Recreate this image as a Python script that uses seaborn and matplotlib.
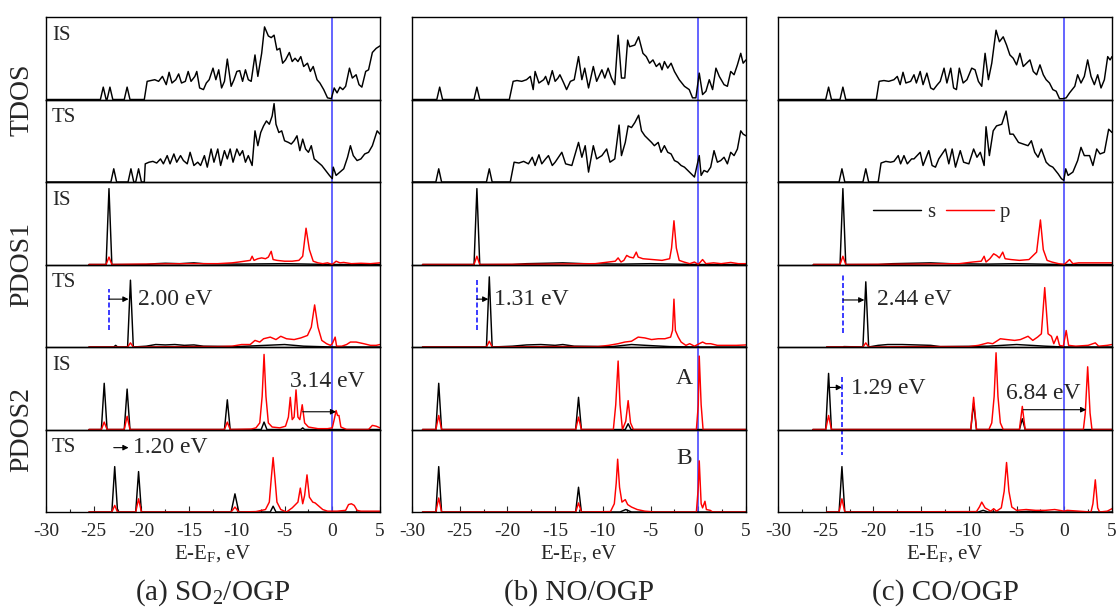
import matplotlib
matplotlib.use('Agg')
import matplotlib.pyplot as plt
from matplotlib.lines import Line2D
from matplotlib.ticker import MultipleLocator
import seaborn as sns
import pandas as pd

# ---------------- data: (E - E_F in eV, DOS in panel units) ----------------
# (a) SO2/OGP
so2_tdos_is = [(-30, 0), (-24.3, 0), (-24.0, 0.15), (-23.7, 0), (-23.6, 0), (-23.3, 0.15), (-23.0, 0),
               (-21.8, 0), (-21.5, 0.15), (-21.2, 0), (-19.7, 0), (-19.4, 0.22), (-19.0, 0.23), (-18.6, 0.24),
               (-18.2, 0.22), (-17.8, 0.28), (-17.4, 0.18), (-17.1, 0.33), (-16.8, 0.20), (-16.4, 0.24),
               (-16.1, 0.31), (-15.8, 0.20), (-15.4, 0.22), (-15.1, 0.34), (-14.8, 0.22), (-14.4, 0.28),
               (-14.2, 0.34), (-13.9, 0.14), (-13.5, 0.12), (-13.2, 0.20), (-12.9, 0.24), (-12.5, 0.38),
               (-12.2, 0.24), (-11.9, 0.36), (-11.6, 0.14), (-11.3, 0.22), (-11.0, 0.49), (-10.6, 0.16),
               (-10.3, 0.24), (-10.0, 0.34), (-9.7, 0.35), (-9.4, 0.22), (-9.1, 0.36), (-8.8, 0.24),
               (-8.5, 0.22), (-8.1, 0.54), (-7.8, 0.28), (-7.4, 0.56), (-7.1, 0.88), (-6.7, 0.77),
               (-6.4, 0.75), (-6.1, 0.78), (-5.8, 0.60), (-5.5, 0.62), (-5.2, 0.44), (-4.9, 0.48),
               (-4.5, 0.57), (-4.2, 0.46), (-3.9, 0.50), (-3.6, 0.46), (-3.3, 0.52), (-3.0, 0.40),
               (-2.6, 0.44), (-2.3, 0.34), (-2.0, 0.40), (-1.6, 0.24), (-1.3, 0.20), (-0.9, 0.12),
               (-0.5, 0.02), (-0.1, 0.01), (0.2, 0.14), (0.5, 0.08), (0.8, 0.15), (1.1, 0.12), (1.4, 0.16),
               (1.8, 0.38), (2.1, 0.26), (2.5, 0.30), (2.8, 0.18), (3.1, 0.15), (3.5, 0.34), (3.8, 0.36),
               (4.2, 0.57), (4.6, 0.62), (5.0, 0.65)]
so2_tdos_ts = [(-30, 0), (-23.2, 0), (-22.9, 0.16), (-22.6, 0), (-21.4, 0), (-21.1, 0.16), (-20.8, 0),
               (-20.6, 0), (-20.3, 0.16), (-20.0, 0), (-19.7, 0), (-19.6, 0.22), (-19.2, 0.24), (-18.8, 0.25),
               (-18.4, 0.23), (-18.0, 0.28), (-17.7, 0.22), (-17.3, 0.32), (-17.0, 0.22), (-16.6, 0.34),
               (-16.3, 0.24), (-15.9, 0.32), (-15.6, 0.26), (-15.2, 0.22), (-14.9, 0.36), (-14.5, 0.20),
               (-14.1, 0.24), (-13.8, 0.20), (-13.4, 0.32), (-13.1, 0.18), (-12.7, 0.40), (-12.4, 0.24),
               (-12.0, 0.40), (-11.7, 0.20), (-11.3, 0.38), (-11.0, 0.28), (-10.7, 0.40), (-10.4, 0.24),
               (-10.0, 0.40), (-9.7, 0.32), (-9.4, 0.38), (-9.1, 0.24), (-8.8, 0.32), (-8.4, 0.20),
               (-8.1, 0.62), (-7.8, 0.44), (-7.5, 0.60), (-7.2, 0.68), (-6.9, 0.74), (-6.6, 0.70),
               (-6.3, 0.80), (-6.1, 0.95), (-5.9, 0.70), (-5.6, 0.60), (-5.3, 0.62), (-5.0, 0.50),
               (-4.6, 0.48), (-4.3, 0.46), (-4.0, 0.50), (-3.7, 0.56), (-3.4, 0.38), (-3.1, 0.52),
               (-2.8, 0.40), (-2.5, 0.36), (-2.2, 0.44), (-1.9, 0.28), (-1.5, 0.24), (-1.1, 0.20),
               (-0.7, 0.14), (-0.3, 0.08), (0.0, 0.04), (0.1, 0.18), (0.4, 0.08), (0.8, 0.12), (1.2, 0.16),
               (1.6, 0.30), (1.9, 0.44), (2.2, 0.32), (2.6, 0.26), (3.0, 0.28), (3.4, 0.34), (3.8, 0.36),
               (4.2, 0.44), (4.7, 0.62), (5.0, 0.58)]
so2_pdos1_is_s = [(-25.5, 0), (-23.7, 0), (-23.4, 0.92), (-23.1, 0), (-19.5, 0), (-18.5, 0.01), (-17.5, 0.015),
                  (-16.0, 0.01), (-14.5, 0.02), (-13.5, 0.01), (-10, 0.005), (-5, 0.01), (0, 0), (5, 0)]
so2_pdos1_is_p = [(-25.5, 0), (-23.7, 0), (-23.4, 0.09), (-23.1, 0), (-20, 0.005), (-15, 0.01), (-12, 0.01),
                  (-10.5, 0.02), (-9.8, 0.03), (-9.2, 0.04), (-8.6, 0.05), (-8.4, 0.10), (-8.2, 0.05),
                  (-7.8, 0.07), (-7.4, 0.08), (-7.0, 0.07), (-6.7, 0.09), (-6.4, 0.16), (-6.2, 0.06),
                  (-5.8, 0.05), (-5.0, 0.04), (-4.2, 0.04), (-3.5, 0.05), (-3.1, 0.10), (-2.75, 0.44),
                  (-2.4, 0.18), (-2.0, 0.04), (-1.5, 0.02), (-1.0, 0.01), (-0.5, 0.02), (0.0, 0.0),
                  (0.4, 0.04), (0.8, 0.02), (1.2, 0.025), (2.0, 0.01), (3.0, 0.015), (4.0, 0.01), (5.0, 0.02)]
so2_pdos1_ts_s = [(-25.5, 0), (-22.9, 0), (-22.7, 0.02), (-22.5, 0), (-21.45, 0), (-21.15, 0.81), (-20.85, 0),
                  (-19.5, 0.01), (-18.5, 0.03), (-17.5, 0.025), (-16.5, 0.03), (-15.5, 0.02), (-14.5, 0.025),
                  (-13.5, 0.01), (-10, 0.005), (-7, 0.02), (-5, 0.03), (-3, 0.01), (0, 0), (5, 0)]
so2_pdos1_ts_p = [(-25.5, 0), (-21.45, 0), (-21.15, 0.05), (-20.85, 0), (-15, 0.005), (-12, 0.005),
                  (-10.5, 0.01), (-9.5, 0.03), (-8.6, 0.03), (-8.1, 0.08), (-7.6, 0.06), (-7.2, 0.10),
                  (-6.5, 0.12), (-5.9, 0.09), (-5.4, 0.13), (-4.8, 0.10), (-4.0, 0.09), (-3.3, 0.11),
                  (-2.6, 0.14), (-2.2, 0.24), (-1.85, 0.51), (-1.5, 0.24), (-1.1, 0.08), (-0.6, 0.04),
                  (-0.2, 0.02), (0.0, 0.04), (0.3, 0.12), (0.45, 0.01), (1.0, 0.01), (1.5, 0.03), (1.9, 0.06),
                  (2.5, 0.06), (3.3, 0.04), (4.0, 0.02), (4.6, 0.02), (5.0, 0.03)]
so2_pdos2_is_s = [(-25.5, 0), (-24.2, 0), (-23.9, 0.56), (-23.6, 0), (-21.8, 0), (-21.5, 0.49), (-21.2, 0),
                  (-11.3, 0), (-11.0, 0.36), (-10.7, 0), (-7.45, 0), (-7.15, 0.09), (-6.85, 0), (-3.3, 0),
                  (-3.1, 0.02), (-2.9, 0), (5, 0)]
so2_pdos2_is_p = [(-25.5, 0), (-24.2, 0), (-23.9, 0.09), (-23.6, 0), (-21.8, 0), (-21.5, 0.16), (-21.2, 0),
                  (-11.3, 0), (-11.0, 0.09), (-10.7, 0), (-8.5, 0.005), (-8.0, 0.02), (-7.6, 0.08),
                  (-7.35, 0.4), (-7.15, 0.91), (-6.95, 0.4), (-6.7, 0.08), (-6.3, 0.03), (-5.5, 0.02),
                  (-4.9, 0.04), (-4.6, 0.15), (-4.4, 0.39), (-4.2, 0.12), (-4.0, 0.15), (-3.8, 0.48),
                  (-3.6, 0.15), (-3.4, 0.12), (-3.15, 0.30), (-2.9, 0.08), (-2.5, 0.03), (-1.5, 0.01),
                  (-0.5, 0.01), (0.0, 0.02), (0.2, 0.12), (0.4, 0.23), (0.55, 0.17), (0.7, 0.17), (0.9, 0.03),
                  (1.5, 0.0), (3.8, 0.0), (4.2, 0.05), (4.6, 0.04), (5.0, 0.02)]
so2_pdos2_ts_s = [(-25.5, 0), (-23.1, 0), (-22.8, 0.55), (-22.5, 0), (-20.6, 0), (-20.3, 0.49), (-20.0, 0),
                  (-10.6, 0), (-10.2, 0.22), (-9.8, 0), (-6.5, 0), (-6.2, 0.07), (-5.9, 0), (5, 0)]
so2_pdos2_ts_p = [(-25.5, 0), (-23.1, 0), (-22.8, 0.08), (-22.5, 0), (-20.6, 0), (-20.3, 0.16), (-20.0, 0),
                  (-10.6, 0), (-10.2, 0.06), (-9.8, 0), (-8, 0.005), (-7.0, 0.03), (-6.6, 0.12), (-6.4, 0.4),
                  (-6.2, 0.66), (-6.0, 0.4), (-5.8, 0.12), (-5.4, 0.03), (-4.8, 0.0), (-4.2, 0.05),
                  (-3.6, 0.12), (-3.35, 0.29), (-3.1, 0.10), (-2.9, 0.2), (-2.65, 0.45), (-2.4, 0.18),
                  (-2.05, 0.12), (-1.8, 0.11), (-1.5, 0.08), (-1.0, 0.03), (-0.5, 0.01), (0.5, 0.01),
                  (1.4, 0.02), (1.7, 0.09), (2.0, 0.10), (2.3, 0.08), (2.6, 0.02), (3.0, 0.01), (5.0, 0.01)]

# (b) NO/OGP
no_tdos_is = [(-30, 0), (-27.4, 0), (-27.1, 0.15), (-26.8, 0), (-23.5, 0), (-23.2, 0.15), (-22.9, 0),
              (-19.8, 0), (-19.4, 0.22), (-19.0, 0.23), (-18.5, 0.22), (-18.0, 0.24), (-17.6, 0.28),
              (-17.3, 0.12), (-17.1, 0.34), (-16.7, 0.20), (-16.2, 0.24), (-16.0, 0.28), (-15.7, 0.18),
              (-15.3, 0.35), (-15.0, 0.22), (-14.7, 0.26), (-14.5, 0.30), (-14.1, 0.20), (-13.8, 0.12),
              (-13.4, 0.22), (-13.0, 0.24), (-12.55, 0.52), (-12.2, 0.24), (-11.9, 0.38), (-11.5, 0.14),
              (-11.0, 0.40), (-10.65, 0.22), (-10.1, 0.36), (-9.8, 0.26), (-9.45, 0.38), (-9.1, 0.26),
              (-8.75, 0.18), (-8.4, 0.78), (-8.05, 0.26), (-7.7, 0.26), (-7.4, 0.72), (-7.2, 0.64),
              (-6.65, 0.66), (-6.25, 0.76), (-5.8, 0.56), (-5.45, 0.52), (-5.1, 0.44), (-4.75, 0.48),
              (-4.4, 0.40), (-4.05, 0.44), (-3.8, 0.36), (-3.55, 0.46), (-3.2, 0.38), (-2.85, 0.44),
              (-2.5, 0.34), (-2.0, 0.24), (-1.45, 0.16), (-0.95, 0.12), (-0.6, 0.02), (-0.25, 0.02),
              (0.1, 0.32), (0.45, 0.06), (0.8, 0.10), (1.15, 0.24), (1.5, 0.12), (1.85, 0.38), (2.2, 0.28),
              (2.7, 0.18), (3.05, 0.16), (3.4, 0.34), (3.75, 0.30), (4.1, 0.42), (4.45, 0.56), (4.7, 0.44),
              (5.0, 0.48)]
no_tdos_ts = [(-30, 0), (-27.5, 0), (-27.2, 0.16), (-26.9, 0), (-22.2, 0), (-21.9, 0.16), (-21.6, 0),
              (-19.7, 0), (-19.3, 0.24), (-18.8, 0.23), (-18.3, 0.25), (-17.8, 0.22), (-17.4, 0.30),
              (-17.1, 0.20), (-16.7, 0.33), (-16.4, 0.22), (-16.0, 0.28), (-15.7, 0.32), (-15.3, 0.20),
              (-15.0, 0.24), (-14.3, 0.36), (-13.9, 0.22), (-13.25, 0.20), (-12.55, 0.48), (-12.2, 0.30),
              (-11.85, 0.44), (-11.5, 0.12), (-11.0, 0.44), (-10.65, 0.28), (-10.1, 0.32), (-9.6, 0.40),
              (-9.25, 0.24), (-8.75, 0.28), (-8.3, 0.69), (-8.05, 0.32), (-7.65, 0.48), (-7.35, 0.68),
              (-7.0, 0.66), (-6.65, 0.72), (-6.25, 0.81), (-5.95, 0.62), (-5.6, 0.56), (-5.25, 0.52),
              (-4.9, 0.48), (-4.6, 0.44), (-4.2, 0.48), (-3.9, 0.36), (-3.55, 0.44), (-3.2, 0.36),
              (-2.85, 0.34), (-2.5, 0.26), (-2.15, 0.24), (-1.8, 0.20), (-1.45, 0.18), (-1.1, 0.14),
              (-0.75, 0.10), (-0.4, 0.06), (0.1, 0.32), (0.3, 0.08), (0.6, 0.14), (0.95, 0.12), (1.3, 0.18),
              (1.65, 0.38), (2.0, 0.24), (2.35, 0.26), (2.7, 0.30), (3.05, 0.22), (3.4, 0.36), (3.75, 0.32),
              (4.1, 0.40), (4.45, 0.62), (4.7, 0.58), (5.0, 0.56)]
no_pdos1_is_s = [(-28.9, 0), (-23.5, 0), (-23.2, 0.92), (-22.9, 0), (-19.5, 0), (-18, 0.01), (-16, 0.015),
                 (-14.2, 0.02), (-12, 0.01), (-8, 0.005), (-5, 0.01), (0, 0), (5, 0)]
no_pdos1_is_p = [(-28.9, 0), (-23.5, 0), (-23.2, 0.10), (-22.9, 0), (-15, 0.005), (-10.8, 0.01), (-10.1, 0.02),
                 (-9.4, 0.03), (-8.7, 0.04), (-8.4, 0.08), (-8.1, 0.03), (-7.8, 0.05), (-7.5, 0.11),
                 (-7.2, 0.09), (-6.8, 0.08), (-6.5, 0.15), (-6.3, 0.09), (-5.8, 0.07), (-4.8, 0.06),
                 (-3.8, 0.05), (-3.0, 0.07), (-2.8, 0.2), (-2.55, 0.53), (-2.3, 0.2), (-2.0, 0.05),
                 (-1.5, 0.03), (-0.9, 0.01), (-0.4, 0.03), (0.0, 0.0), (0.45, 0.06), (0.8, 0.01), (1.6, 0.02),
                 (2.4, 0.01), (3.4, 0.025), (4.2, 0.01), (5.0, 0.01)]
no_pdos1_ts_s = [(-28.9, 0), (-22.2, 0), (-21.9, 0.85), (-21.6, 0), (-19.5, 0.01), (-18, 0.025), (-16.5, 0.03),
                 (-15, 0.02), (-14.2, 0.03), (-13, 0.01), (-9, 0.005), (-7, 0.03), (-5.5, 0.02), (-3, 0.005),
                 (0, 0), (5, 0)]
no_pdos1_ts_p = [(-28.9, 0), (-22.2, 0), (-21.9, 0.07), (-21.6, 0), (-15, 0.005), (-10.5, 0.005), (-9.4, 0.02),
                 (-8.4, 0.04), (-7.7, 0.06), (-7.0, 0.07), (-6.3, 0.12), (-5.6, 0.11), (-4.9, 0.09),
                 (-4.2, 0.10), (-3.5, 0.10), (-2.9, 0.12), (-2.7, 0.2), (-2.55, 0.58), (-2.4, 0.2),
                 (-2.1, 0.12), (-1.8, 0.06), (-1.3, 0.02), (-0.9, 0.04), (-0.4, 0.01), (0.1, 0.04),
                 (0.45, 0.06), (0.8, 0.04), (1.3, 0.04), (2.0, 0.02), (3.0, 0.02), (4.0, 0.02), (5.0, 0.025)]
no_pdos2_is_s = [(-28.9, 0), (-27.5, 0), (-27.2, 0.56), (-26.9, 0), (-12.85, 0), (-12.55, 0.39), (-12.25, 0),
                 (-7.65, 0), (-7.35, 0.07), (-7.05, 0), (5, 0)]
no_pdos2_is_p = [(-28.9, 0), (-27.5, 0), (-27.2, 0.17), (-26.9, 0), (-12.85, 0), (-12.55, 0.15), (-12.25, 0),
                 (-8.9, 0.0), (-8.65, 0.3), (-8.4, 0.83), (-8.2, 0.3), (-7.95, 0.0), (-7.6, 0.1),
                 (-7.35, 0.35), (-7.1, 0.08), (-6.8, 0.0), (-0.2, 0), (0.0, 0.3), (0.1, 0.89), (0.3, 0.3),
                 (0.5, 0.0), (5, 0)]
no_pdos2_ts_s = [(-28.9, 0), (-27.5, 0), (-27.2, 0.55), (-26.9, 0), (-12.85, 0), (-12.55, 0.30), (-12.25, 0),
                 (-8.2, 0), (-7.6, 0.03), (-7.0, 0), (5, 0)]
no_pdos2_ts_p = [(-28.9, 0), (-27.5, 0), (-27.2, 0.17), (-26.9, 0), (-12.85, 0), (-12.55, 0.11), (-12.25, 0),
                 (-9.2, 0.005), (-8.8, 0.1), (-8.6, 0.35), (-8.45, 0.64), (-8.25, 0.3), (-8.0, 0.12),
                 (-7.65, 0.15), (-7.4, 0.09), (-7.0, 0.06), (-6.4, 0.03), (-5.6, 0.01), (-4.5, 0.0),
                 (-0.2, 0.0), (0.0, 0.3), (0.1, 0.62), (0.3, 0.1), (0.45, 0.05), (0.7, 0.13), (0.85, 0.03),
                 (1.25, 0.02), (1.5, 0.0), (5, 0)]

# (c) CO/OGP
co_tdos_is = [(-30, 0), (-25.0, 0), (-24.7, 0.15), (-24.4, 0), (-23.5, 0), (-23.2, 0.15), (-22.9, 0),
              (-19.7, 0), (-19.4, 0.22), (-18.9, 0.23), (-18.4, 0.22), (-17.85, 0.24), (-17.5, 0.28),
              (-17.2, 0.18), (-16.9, 0.33), (-16.6, 0.20), (-16.1, 0.22), (-15.75, 0.30), (-15.5, 0.20),
              (-15.1, 0.34), (-14.8, 0.18), (-14.4, 0.32), (-14.0, 0.14), (-13.7, 0.12), (-13.3, 0.18),
              (-13.0, 0.22), (-12.6, 0.38), (-12.3, 0.20), (-11.9, 0.38), (-11.6, 0.14), (-11.3, 0.12),
              (-11.0, 0.38), (-10.6, 0.20), (-10.2, 0.24), (-9.7, 0.38), (-9.35, 0.36), (-9.0, 0.22),
              (-8.65, 0.16), (-8.3, 0.56), (-7.95, 0.24), (-7.6, 0.44), (-7.15, 0.84), (-6.8, 0.70),
              (-6.4, 0.76), (-6.05, 0.66), (-5.7, 0.54), (-5.35, 0.50), (-5.0, 0.42), (-4.65, 0.56),
              (-4.3, 0.40), (-3.95, 0.44), (-3.6, 0.48), (-3.25, 0.34), (-2.9, 0.30), (-2.55, 0.42),
              (-2.2, 0.30), (-1.9, 0.24), (-1.55, 0.20), (-1.2, 0.12), (-0.85, 0.10), (-0.5, 0.01),
              (-0.15, 0.01), (0.2, 0.02), (0.55, 0.08), (1.1, 0.16), (1.4, 0.30), (1.75, 0.20), (2.1, 0.28),
              (2.45, 0.48), (2.8, 0.28), (3.15, 0.18), (3.5, 0.30), (3.85, 0.14), (4.2, 0.24), (4.55, 0.52),
              (4.8, 0.48), (5.0, 0.52)]
co_tdos_ts = [(-30, 0), (-23.6, 0), (-23.3, 0.16), (-23.0, 0), (-21.1, 0), (-20.8, 0.16), (-20.5, 0),
              (-19.5, 0), (-19.2, 0.23), (-18.7, 0.25), (-18.2, 0.24), (-17.85, 0.25), (-17.4, 0.32),
              (-17.15, 0.22), (-16.8, 0.32), (-16.45, 0.22), (-16.0, 0.28), (-15.75, 0.28), (-15.1, 0.36),
              (-14.8, 0.20), (-14.2, 0.38), (-13.85, 0.20), (-13.5, 0.18), (-13.15, 0.28), (-12.45, 0.40),
              (-12.1, 0.22), (-11.75, 0.40), (-11.4, 0.18), (-10.9, 0.38), (-10.55, 0.24), (-10.0, 0.22),
              (-9.5, 0.40), (-9.15, 0.30), (-8.8, 0.36), (-8.4, 0.20), (-8.2, 0.67), (-7.85, 0.32),
              (-7.45, 0.62), (-7.1, 0.68), (-6.55, 0.70), (-6.1, 0.86), (-5.7, 0.58), (-5.35, 0.58),
              (-4.8, 0.48), (-4.3, 0.46), (-3.8, 0.44), (-3.45, 0.50), (-3.1, 0.36), (-2.75, 0.30),
              (-2.4, 0.40), (-1.9, 0.24), (-1.55, 0.20), (-1.2, 0.18), (-0.65, 0.10), (-0.3, 0.04),
              (-0.05, 0.02), (0.15, 0.16), (0.4, 0.08), (0.9, 0.12), (1.4, 0.26), (1.75, 0.42), (2.1, 0.32),
              (2.65, 0.32), (3.0, 0.20), (3.4, 0.40), (3.75, 0.34), (4.2, 0.36), (4.65, 0.64), (5.0, 0.60)]
co_pdos1_is_s = [(-26.3, 0), (-23.5, 0), (-23.2, 0.92), (-22.9, 0), (-19.5, 0), (-18, 0.01), (-16, 0.015),
                 (-14.0, 0.02), (-12, 0.01), (-8, 0.005), (-5, 0.01), (0, 0), (5, 0)]
co_pdos1_is_p = [(-26.3, 0), (-23.5, 0), (-23.2, 0.10), (-22.9, 0), (-15, 0.005), (-11, 0.01), (-9.6, 0.03),
                 (-8.7, 0.04), (-8.4, 0.10), (-8.2, 0.03), (-7.8, 0.07), (-7.4, 0.13), (-7.1, 0.11),
                 (-6.8, 0.08), (-6.45, 0.15), (-6.2, 0.07), (-5.6, 0.06), (-4.7, 0.05), (-3.7, 0.06),
                 (-2.9, 0.15), (-2.5, 0.54), (-2.2, 0.18), (-1.8, 0.05), (-1.3, 0.03), (-0.6, 0.01),
                 (0.0, 0.0), (0.55, 0.06), (0.9, 0.01), (1.5, 0.02), (2.5, 0.02), (3.5, 0.02), (5.0, 0.02)]
co_pdos1_ts_s = [(-24.9, 0), (-23.2, 0), (-23.1, 0.005), (-21.1, 0), (-20.8, 0.79), (-20.5, 0), (-19.5, 0.02),
                 (-18.5, 0.03), (-17, 0.03), (-15.5, 0.025), (-14.0, 0.02), (-13, 0.005), (-8, 0.01),
                 (-5, 0.03), (-2, 0.01), (0, 0), (5, 0)]
co_pdos1_ts_p = [(-24.9, 0), (-21.1, 0), (-20.8, 0.05), (-20.5, 0), (-15, 0.005), (-10, 0.005), (-9.0, 0.02),
                 (-8.0, 0.05), (-7.5, 0.04), (-6.7, 0.10), (-6.0, 0.09), (-5.2, 0.08), (-4.6, 0.09),
                 (-3.8, 0.13), (-3.3, 0.08), (-2.8, 0.12), (-2.4, 0.16), (-2.05, 0.72), (-1.7, 0.16),
                 (-1.35, 0.13), (-1.1, 0.04), (-0.75, 0.13), (-0.5, 0.02), (-0.1, 0.01), (0.2, 0.20),
                 (0.45, 0.02), (1.2, 0.01), (2.5, 0.02), (3.25, 0.05), (3.6, 0.01), (4.5, 0.02), (5.0, 0.03)]
co_pdos2_is_s = [(-26.35, 0), (-25.0, 0), (-24.7, 0.68), (-24.4, 0), (-9.8, 0), (-9.5, 0.32), (-9.2, 0),
                 (-4.7, 0), (-4.4, 0.13), (-4.1, 0), (5, 0)]
co_pdos2_is_p = [(-26.35, 0), (-25.0, 0), (-24.7, 0.17), (-24.4, 0), (-9.8, 0), (-9.5, 0.39), (-9.2, 0),
                 (-7.9, 0.0), (-7.6, 0.08), (-7.35, 0.4), (-7.15, 0.93), (-6.95, 0.4), (-6.7, 0.08),
                 (-6.4, 0.0), (-4.7, 0), (-4.4, 0.28), (-4.1, 0), (2.0, 0.0), (2.2, 0.2), (2.45, 0.76),
                 (2.7, 0.2), (2.9, 0.0), (5, 0)]
co_pdos2_ts_s = [(-24.9, 0), (-23.6, 0), (-23.3, 0.55), (-23.0, 0), (-9, 0), (-8.5, 0.02), (-8, 0),
                 (-5, 0.0), (-3.5, 0.01), (-2, 0), (5, 0)]
co_pdos2_ts_p = [(-24.9, 0), (-23.6, 0), (-23.3, 0.16), (-23.0, 0), (-9.2, 0.005), (-8.9, 0.06), (-8.65, 0.12),
                 (-8.3, 0.05), (-8.0, 0.03), (-7.7, 0.01), (-7.4, 0.04), (-7.1, 0.01), (-6.6, 0.05),
                 (-6.3, 0.25), (-6.05, 0.60), (-5.8, 0.25), (-5.5, 0.06), (-5.0, 0.02), (-4.0, 0.03),
                 (-3.0, 0.02), (-2.0, 0.02), (-1.0, 0.03), (0.0, 0.01), (0.3, 0.02), (2.8, 0.0), (3.0, 0.1),
                 (3.25, 0.39), (3.5, 0.05), (3.7, 0.0), (4.5, 0.01), (5.0, 0.04)]

# rows of each column: TDOS IS, TDOS TS, PDOS1 IS, PDOS1 TS, PDOS2 IS, PDOS2 TS
columns = [
    [[so2_tdos_is], [so2_tdos_ts], [so2_pdos1_is_s, so2_pdos1_is_p], [so2_pdos1_ts_s, so2_pdos1_ts_p],
     [so2_pdos2_is_s, so2_pdos2_is_p], [so2_pdos2_ts_s, so2_pdos2_ts_p]],
    [[no_tdos_is], [no_tdos_ts], [no_pdos1_is_s, no_pdos1_is_p], [no_pdos1_ts_s, no_pdos1_ts_p],
     [no_pdos2_is_s, no_pdos2_is_p], [no_pdos2_ts_s, no_pdos2_ts_p]],
    [[co_tdos_is], [co_tdos_ts], [co_pdos1_is_s, co_pdos1_is_p], [co_pdos1_ts_s, co_pdos1_ts_p],
     [co_pdos2_is_s, co_pdos2_is_p], [co_pdos2_ts_s, co_pdos2_ts_p]],
]
titles = ['(a) SO$_2$/OGP', '(b) NO/OGP', '(c) CO/OGP']
state_labels = ['IS', 'TS', 'IS', 'TS', 'IS', 'TS']
row_names = ['TDOS', 'PDOS1', 'PDOS2']

# ---------------- style ----------------
sns.set_style('ticks')
plt.rcParams['font.family'] = ['Liberation Serif', 'DejaVu Serif']
plt.rcParams['mathtext.fontset'] = 'custom'
plt.rcParams['mathtext.rm'] = 'Liberation Serif'
plt.rcParams['mathtext.it'] = 'Liberation Serif:italic'
plt.rcParams['axes.unicode_minus'] = False

fig = plt.figure(figsize=(11.18, 6.11), dpi=100)
lefts = [46 / 1118, 412 / 1118, 778 / 1118]
width = 334 / 1118
row_h = 82.5 / 611
top = 1 - 17 / 611


def draw_curve(ax, pairs, color):
    df = pd.DataFrame(pairs, columns=['E', 'dos'])
    sns.lineplot(data=df, x='E', y='dos', ax=ax, color=color, lw=1.05,
                 estimator=None, sort=False)


axes = []
for c, col in enumerate(columns):
    col_axes = []
    for r, curves in enumerate(col):
        ax = fig.add_axes([lefts[c], top - row_h * (r + 1), width, row_h])
        ax.patch.set_visible(False)
        ax.axvline(0, color='#4a4aff', lw=1.2, zorder=1)
        for curve, color in zip(curves, ['black', 'red']):
            draw_curve(ax, curve, color)
        ax.set_xlim(-30, 5)
        ax.set_ylim(0, 1)
        ax.set_yticks([])
        ax.set_ylabel('')
        for sp in ax.spines.values():
            sp.set_linewidth(1.0)
            sp.set_color('black')
        if r < 5:
            ax.set_xticks([])
            ax.set_xlabel('')
        else:
            ax.xaxis.set_major_locator(MultipleLocator(5))
            ax.xaxis.set_minor_locator(MultipleLocator(2.5))
            ax.tick_params(axis='x', which='both', direction='in', labelsize=14, pad=8)
            ax.tick_params(axis='x', which='major', length=4, width=0.8)
            ax.tick_params(axis='x', which='minor', length=2.5, width=0.8)
            ax.set_xlabel('E-E$_\\mathrm{F}$, eV', fontsize=15, labelpad=2)
        if c == 0:
            ax.text(0.018, 0.78, state_labels[r], transform=ax.transAxes,
                    fontsize=15, va='center', ha='left')
        col_axes.append(ax)
    axes.append(col_axes)
    fig.text(lefts[c] + width / 2, 1 - 593 / 611, titles[c], fontsize=21, ha='center', va='center')

for i, name in enumerate(row_names):
    fig.text(0.0197, top - row_h * (2 * i + 1), name, fontsize=20, rotation=90,
             ha='center', va='center')

arrow = dict(arrowstyle='-|>', color='black', lw=0.8, mutation_scale=8, shrinkA=0, shrinkB=0)
dash_kw = dict(color='#1a1aff', lw=1.2, ls=(0, (3, 1.5)))

# (a) annotations
ax = axes[0][3]
ax.plot([-23.4, -23.4], [0.21, 0.70], **dash_kw)
ax.annotate('', xy=(-21.35, 0.58), xytext=(-23.4, 0.58), arrowprops=arrow)
ax.text(-20.4, 0.58, '2.00 eV', fontsize=17, va='center', ha='left')
ax = axes[0][4]
ax.annotate('', xy=(0.4, 0.215), xytext=(-3.1, 0.215), arrowprops=arrow)
ax.text(-0.5, 0.58, '3.14 eV', fontsize=17, va='center', ha='center')
ax = axes[0][5]
ax.annotate('', xy=(-21.35, 0.78), xytext=(-22.9, 0.78), arrowprops=arrow)
ax.text(-20.9, 0.78, '1.20 eV', fontsize=17, va='center', ha='left')

# (b) annotations
ax = axes[1][3]
ax.plot([-23.2, -23.2], [0.21, 0.81], **dash_kw)
ax.annotate('', xy=(-22.0, 0.58), xytext=(-23.2, 0.58), arrowprops=arrow)
ax.text(-21.4, 0.58, '1.31 eV', fontsize=17, va='center', ha='left')
axes[1][4].text(-1.5, 0.62, 'A', fontsize=17, va='center', ha='center')
axes[1][5].text(-1.5, 0.65, 'B', fontsize=17, va='center', ha='center')

# (c) annotations
ax = axes[2][2]
handles = [Line2D([], [], color='black', lw=1.05), Line2D([], [], color='red', lw=1.05)]
ax.legend(handles, ['s', 'p'], ncol=2, frameon=False, loc='center', bbox_to_anchor=(0.49, 0.63),
          fontsize=15, handlelength=2.3, handletextpad=0.3, columnspacing=0.5)
ax = axes[2][3]
ax.plot([-23.2, -23.2], [0.17, 0.89], **dash_kw)
ax.annotate('', xy=(-20.95, 0.57), xytext=(-23.2, 0.57), arrowprops=arrow)
ax.text(-19.6, 0.57, '2.44 eV', fontsize=17, va='center', ha='left')
ax = axes[2][4]
ax.plot([-23.3, -23.3], [0.64, -0.31], clip_on=False, **dash_kw)
ax.annotate('', xy=(-23.3, 0.51), xytext=(-24.7, 0.51), arrowprops=arrow)
ax.text(-22.4, 0.50, '1.29 eV', fontsize=17, va='center', ha='left')
ax.annotate('', xy=(2.3, 0.24), xytext=(-4.3, 0.24), arrowprops=arrow)
ax.text(-2.2, 0.44, '6.84 eV', fontsize=17, va='center', ha='center')

fig.savefig('out.png', dpi=100)
